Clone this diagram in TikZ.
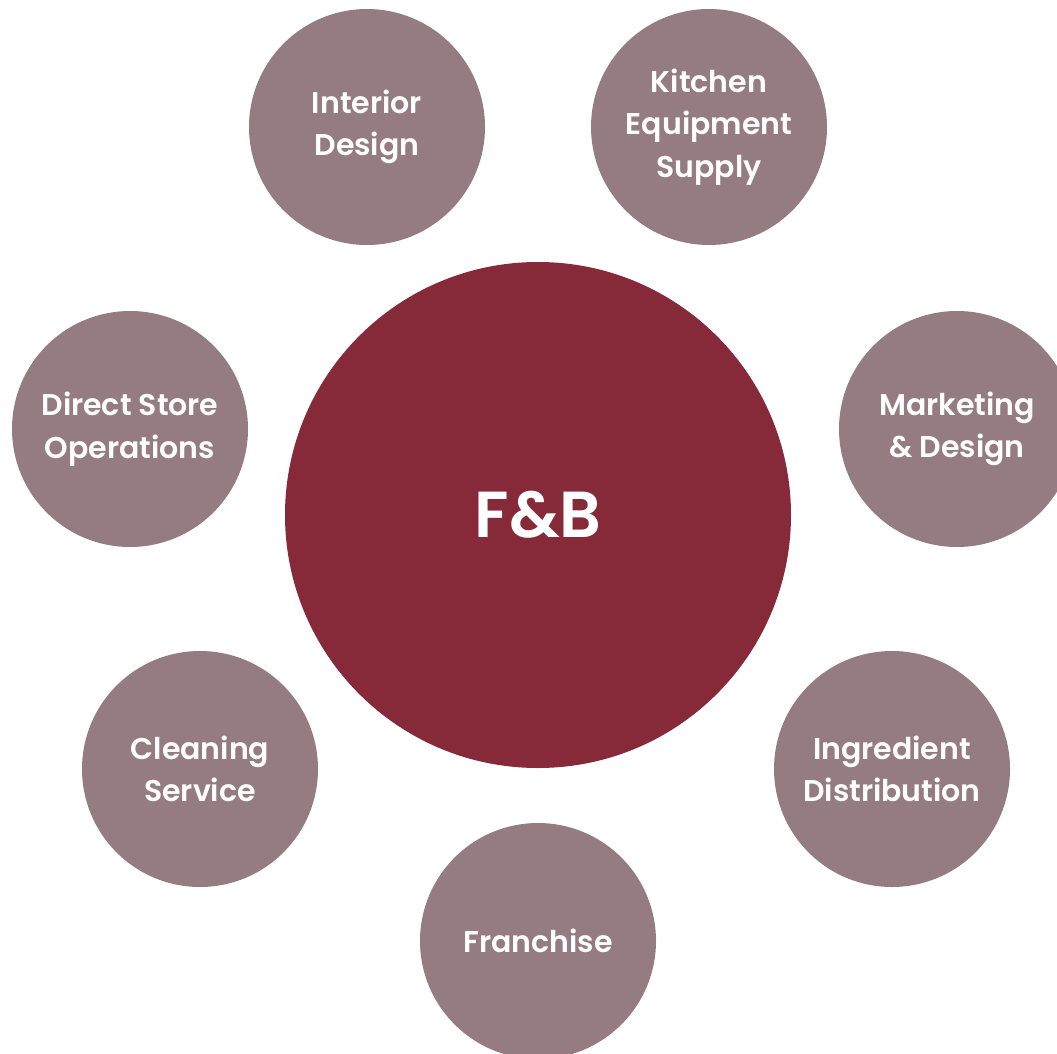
\documentclass[tikz,border=0pt]{standalone}
\usepackage{fontspec}
\setmainfont{Poppins}[UprightFont={* SemiBold}]
\definecolor{hub}{HTML}{862A39}
\definecolor{petal}{HTML}{957C83}
\begin{document}
\begin{tikzpicture}[x=1pt,y=-1pt,
  petalnode/.style={circle,fill=petal,minimum size=236pt,inner sep=0pt,text=white,align=center,font=\fontsize{30}{42.5}\selectfont},
  hubnode/.style={circle,fill=hub,minimum size=506pt,inner sep=0pt,text=white,font=\fontsize{65}{75}\selectfont}]
\useasboundingbox (0,0) rectangle (1057,1054);
\begin{scope}
\clip (0,0) rectangle (1057,1054);
\node[hubnode] (hub) at (538,515) {F\&B};
\node[petalnode] (interior) at (367,127) {Interior\\Design};
\node[petalnode] (kitchen) at (709,127) {Kitchen\\Equipment\\Supply};
\node[petalnode] (direct) at (130,429) {Direct Store\\Operations};
\node[petalnode] (marketing) at (957,429) {Marketing\\\& Design};
\node[petalnode] (cleaning) at (200,769) {Cleaning\\Service};
\node[petalnode] (ingredient) at (892,769) {Ingredient\\Distribution};
\node[petalnode] (franchise) at (538,941) {Franchise};
\end{scope}
\end{tikzpicture}
\end{document}
